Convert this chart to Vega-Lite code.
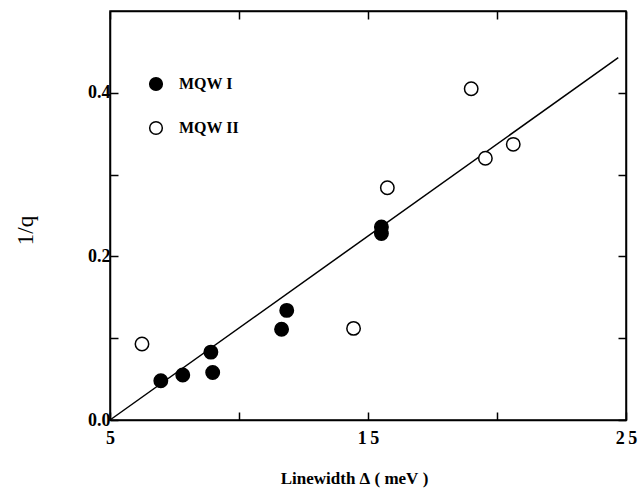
{
  "$schema": "https://vega.github.io/schema/vega-lite/v6.json",
  "width": 516,
  "height": 409,
  "autosize": "none",
  "padding": {"left": 110, "top": 11, "right": 14, "bottom": 73},
  "background": "white",
  "config": {
    "view": {"stroke": "black", "strokeWidth": 1.5},
    "axis": {
      "grid": false,
      "domainColor": "black",
      "domainWidth": 1.5,
      "tickColor": "black",
      "tickWidth": 1.5,
      "tickSize": -8,
      "labelFont": "Liberation Serif",
      "labelFontWeight": "bold",
      "labelFontSize": 18,
      "labelColor": "black",
      "titleColor": "black",
      "titleFont": "Liberation Serif"
    }
  },
  "layer": [
    {
      "data": {"values": [{"x": 5, "y": 0}, {"x": 24.7, "y": 0.443}]},
      "mark": {"type": "line", "color": "black", "strokeWidth": 1.5},
      "encoding": {
        "x": {
          "field": "x", "type": "quantitative",
          "scale": {"domain": [5, 25], "nice": false, "zero": false},
          "axis": {
            "orient": "bottom",
            "values": [5, 10, 15, 20, 25],
            "labelExpr": "datum.value == 5 ? '5' : datum.value == 15 ? '1\u20095' : datum.value == 25 ? '2\u20095' : ''",
            "labelPadding": 17,
            "labelFlush": false,
            "title": "Linewidth\u00a0Δ\u00a0(\u00a0meV\u00a0)",
            "titleFontSize": 17,
            "titleFontWeight": "bold",
            "titleX": 244,
            "titleY": 58,
            "titleBaseline": "middle"
          }
        },
        "y": {
          "field": "y", "type": "quantitative",
          "scale": {"domain": [0, 0.5], "nice": false},
          "axis": {
            "orient": "left",
            "values": [0, 0.1, 0.2, 0.3, 0.4],
            "format": ".1f",
            "labelExpr": "(datum.value < 0.05 || (datum.value > 0.15 && datum.value < 0.25) || (datum.value > 0.35)) ? datum.label : ''",
            "labelPadding": 8,
            "labelFlush": false,
            "title": "1/q",
            "titleFontSize": 23,
            "titleFontWeight": "normal",
            "titleX": -85,
            "titleY": 219,
            "titleAngle": -90,
            "titleBaseline": "middle"
          }
        }
      }
    },
    {
      "data": {
        "values": [
          {"series": "MQW I", "x": 6.97, "y": 0.048},
          {"series": "MQW I", "x": 7.82, "y": 0.055},
          {"series": "MQW I", "x": 8.91, "y": 0.083},
          {"series": "MQW I", "x": 8.98, "y": 0.058},
          {"series": "MQW I", "x": 11.65, "y": 0.111},
          {"series": "MQW I", "x": 11.85, "y": 0.134},
          {"series": "MQW I", "x": 15.52, "y": 0.236},
          {"series": "MQW I", "x": 15.52, "y": 0.228},
          {"series": "MQW II", "x": 6.24, "y": 0.093},
          {"series": "MQW II", "x": 14.44, "y": 0.112},
          {"series": "MQW II", "x": 15.75, "y": 0.284},
          {"series": "MQW II", "x": 19.0, "y": 0.405},
          {"series": "MQW II", "x": 19.55, "y": 0.32},
          {"series": "MQW II", "x": 20.63, "y": 0.337}
        ]
      },
      "mark": {"type": "point", "shape": "circle", "filled": true, "stroke": "black", "strokeWidth": 1.5, "size": 180, "opacity": 1},
      "encoding": {
        "x": {
          "field": "x", "type": "quantitative",
          "scale": {"domain": [5, 25], "nice": false, "zero": false},
          "axis": {"orient": "top", "values": [5, 10, 15, 20, 25], "labels": false, "title": null}
        },
        "y": {
          "field": "y", "type": "quantitative",
          "scale": {"domain": [0, 0.5], "nice": false},
          "axis": {"orient": "right", "values": [0, 0.1, 0.2, 0.3, 0.4], "labels": false, "title": null}
        },
        "fill": {
          "field": "series", "type": "nominal",
          "scale": {"domain": ["MQW I", "MQW II"], "range": ["black", "white"]},
          "legend": {
            "title": null,
            "orient": "none",
            "legendX": 38,
            "legendY": 65,
            "padding": 0,
            "symbolType": "circle",
            "symbolSize": 160,
            "symbolStrokeColor": "black",
            "symbolStrokeWidth": 1.5,
            "symbolOpacity": 1,
            "labelFont": "Liberation Serif",
            "labelFontWeight": "bold",
            "labelFontSize": 16,
            "labelColor": "black",
            "labelOffset": 15,
            "rowPadding": 24
          }
        }
      }
    }
  ],
  "resolve": {"axis": {"x": "independent", "y": "independent"}}
}
